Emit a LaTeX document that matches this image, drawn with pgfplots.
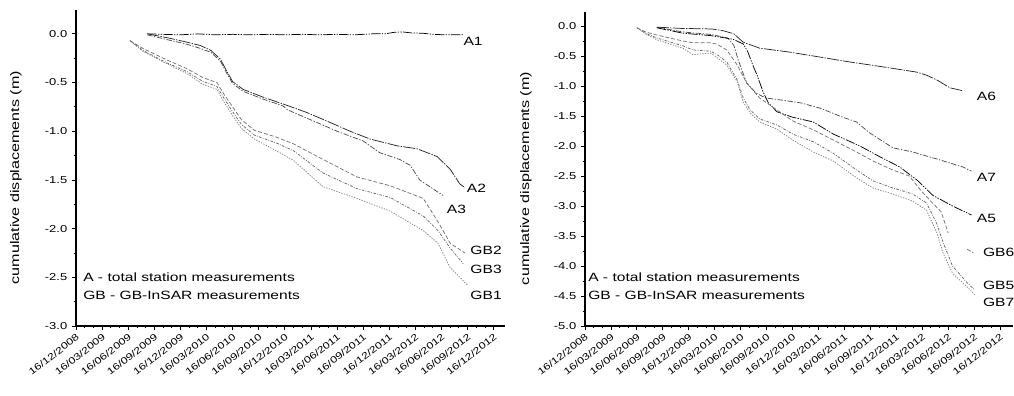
\documentclass[border=0pt]{standalone}
\usepackage{fontspec}
\setmainfont{Liberation Sans}[FakeStretch=1.3]
\usepackage{pgfplots}
\pgfplotsset{compat=1.18}
\newcommand\lab{\fontsize{9}{10}\selectfont}
\pgfplotsset{
  myaxis/.style={
    scale only axis, anchor=south west, clip=false,
    axis x line*=bottom, axis y line*=left,
    axis line style={-, line width=0.8pt},
    tick align=outside, major tick length=3pt, minor tick length=1.8pt,
    tick style={black, line width=0.6pt},
    xmin=0, xtick={0,3,...,48}, minor x tick num=2,
    xticklabels={16/12/2008,16/03/2009,16/06/2009,16/09/2009,16/12/2009,16/03/2010,16/06/2010,16/09/2010,16/12/2010,16/03/2011,16/06/2011,16/09/2011,16/12/2011,16/03/2012,16/06/2012,16/09/2012,16/12/2012},
    xticklabel style={font=\fontsize{7}{8}\selectfont, rotate=38, anchor=north east, inner sep=1.5pt},
    yticklabel style={font=\fontsize{7.5}{8}\selectfont, /pgf/number format/.cd, fixed, fixed zerofill, precision=1},
    /pgf/number format/assume math mode=true,
    minor y tick num=1,
    ylabel={cumulative displacements (m)},
    ylabel style={font=\fontsize{9.3}{10}\selectfont, anchor=center},
    unbounded coords=jump,
    every axis plot/.append style={line width=0.55pt},
  },
  sA1/.style={black, dash pattern=on 7pt off 1pt on 1pt off 1pt on 1pt off 1pt},
  sA2/.style={black!85, dash pattern=on 9pt off 1pt on 1pt off 1pt},
  sA3/.style={black!70, dash pattern=on 4pt off 1.2pt on 1pt off 1.2pt},
  sG1/.style={black!50, dash pattern=on 1pt off 1pt},
  sG2/.style={black!55, dash pattern=on 3pt off 1.5pt},
  sG3/.style={black!60, dash pattern=on 2pt off 1pt on 0.6pt off 1pt},
}
\begin{document}
\begin{tikzpicture}
\path[use as bounding box] (0,0) rectangle (760.5pt,297pt);
% ---------------- left panel ----------------
\begin{axis}[myaxis, at={(57pt,52.5pt)}, width=321.75pt, height=237pt,
  xmax=49.3, ymin=-3.0, ymax=0.245, ytick={-3,-2.5,...,0},
  ylabel style={at={(axis description cs:-0.14,0.47)}}]
\addplot[sA1] coordinates {(8.2,0) (10,-0.005) (12,-0.01) (14,0.0) (16,-0.01) (18,-0.005) (20,-0.01) (22,-0.005) (24,-0.01) (26,-0.005) (28,-0.01) (30,-0.005) (32,-0.01) (34,0.0) (35.5,0.0) (36.5,0.015) (37.5,0.02) (38.5,0.01) (40,0.005) (41,-0.005) (42.5,-0.01) (44.5,-0.01)};
\addplot[sA2] coordinates {(8.2,0) (10.5,-0.04) (12.5,-0.08) (14.3,-0.12) (15.5,-0.17) (16.6,-0.26) (17.3,-0.38) (18.0,-0.49) (19.2,-0.57) (21.5,-0.65) (23.8,-0.72) (26.6,-0.81) (29.2,-0.91) (31.5,-1.0) (33.8,-1.08) (36.9,-1.15) (39.2,-1.18) (41.5,-1.26) (43.0,-1.39) (44.1,-1.54) (44.7,-1.58)};
\addplot[sA3] coordinates {(8.2,-0.01) (10.5,-0.06) (12.5,-0.1) (14.3,-0.15) (15.5,-0.19) (16.6,-0.28) (17.3,-0.4) (18.0,-0.51) (19.2,-0.59) (21.5,-0.67) (23.8,-0.74) (24.3,-0.78) (26.9,-0.88) (30.0,-1.0) (33.0,-1.1) (34.9,-1.22) (37.2,-1.29) (38.4,-1.35) (39.5,-1.5) (41.5,-1.62) (42.2,-1.66)};
\addplot[sG2] coordinates {(6.2,-0.07) (7.7,-0.15) (10.5,-0.27) (12.8,-0.36) (14.6,-0.45) (16.2,-0.5) (17.0,-0.62) (18.0,-0.75) (19.0,-0.88) (20.5,-0.99) (23,-1.06) (25,-1.13) (28.4,-1.29) (32.3,-1.47) (36.1,-1.56) (39.9,-1.69) (41.6,-1.93) (43.0,-2.15) (44.7,-2.25)};
\addplot[sG3] coordinates {(6.2,-0.07) (7.7,-0.17) (10.5,-0.3) (12.8,-0.39) (14.6,-0.49) (16.2,-0.54) (17.0,-0.66) (18.0,-0.8) (19.0,-0.93) (20.5,-1.04) (23,-1.12) (25,-1.2) (28.4,-1.43) (32.3,-1.59) (36.1,-1.68) (39.9,-1.87) (41.6,-2.02) (43,-2.2) (44.5,-2.36)};
\addplot[sG1] coordinates {(6.2,-0.07) (7.7,-0.18) (10.5,-0.31) (12.8,-0.41) (14.6,-0.52) (16.2,-0.57) (17.0,-0.7) (18.0,-0.84) (19.0,-0.97) (20.5,-1.08) (23,-1.2) (25,-1.3) (28.4,-1.57) (32.3,-1.69) (36.1,-1.82) (39.9,-2.02) (41.6,-2.15) (43,-2.4) (45,-2.58)};
\node[font=\lab, anchor=west, inner sep=0] at (axis cs:44.5,-0.08) {A1};
\node[font=\lab, anchor=west, inner sep=0] at (axis cs:44.9,-1.59) {A2};
\node[font=\lab, anchor=west, inner sep=0] at (axis cs:42.6,-1.80) {A3};
\node[font=\lab, anchor=west, inner sep=0] at (axis cs:45.3,-2.22) {GB2};
\node[font=\lab, anchor=west, inner sep=0] at (axis cs:45.3,-2.42) {GB3};
\node[font=\lab, anchor=west, inner sep=0] at (axis cs:45.3,-2.69) {GB1};
\end{axis}
% ---------------- right panel ----------------
\begin{axis}[myaxis, at={(438.75pt,52.5pt)}, width=321pt, height=235.5pt,
  xmax=49.5, ymin=-5.0, ymax=0.233, ytick={-5,-4.5,...,0},
  ylabel style={at={(axis description cs:-0.138,0.47)}}]
\addplot[sA2] coordinates {(8.3,-0.02) (11,-0.04) (14.7,-0.05) (16,-0.08) (17.2,-0.13) (18.3,-0.27) (20.2,-0.37) (23.4,-0.43) (26.4,-0.5) (28.5,-0.55) (30.6,-0.6) (33,-0.65) (35.3,-0.7) (38.4,-0.77) (39.5,-0.82) (40.7,-0.9) (42.2,-1.03) (43.7,-1.08)};
\addplot[sA3] coordinates {(8.3,-0.02) (11.3,-0.1) (14.5,-0.14) (16.5,-0.2) (17.2,-0.32) (17.8,-0.6) (18.7,-0.95) (19.8,-1.12) (20.9,-1.2) (22.5,-1.23) (24.9,-1.28) (27.2,-1.37) (29.8,-1.52) (31.4,-1.6) (32.9,-1.78) (35.6,-2.03) (37.9,-2.1) (41.0,-2.23) (43.7,-2.35) (44.7,-2.42)};
\addplot[sA1] coordinates {(8.3,-0.03) (11.3,-0.12) (14.5,-0.16) (17.1,-0.22) (18.3,-0.3) (18.8,-0.42) (19.4,-0.65) (19.9,-0.82) (20.6,-1.1) (21.2,-1.28) (22.2,-1.43) (24,-1.52) (26.4,-1.6) (28.7,-1.8) (31.8,-2.0) (34.1,-2.18) (36.4,-2.35) (38.5,-2.58) (40.2,-2.82) (42.5,-3.0) (44.7,-3.15)};
\addplot[sG2] coordinates {(6.0,-0.03) (7,-0.1) (8.3,-0.15) (11.3,-0.25) (12.5,-0.28) (14.5,-0.28) (15.2,-0.3) (16.4,-0.4) (17.6,-0.65) (18.7,-0.95) (20.2,-1.2) (22.2,-1.4) (24.0,-1.58) (26.4,-1.73) (28.7,-1.9) (31.4,-2.1) (33.3,-2.25) (35.6,-2.4) (37.5,-2.5) (38.9,-2.75) (40.2,-2.95) (41.2,-3.1) (42.0,-3.45) (43,nan) (44.2,-3.72) (44.9,-3.78)};
\addplot[sG3] coordinates {(6.0,-0.03) (7,-0.12) (8.3,-0.2) (11.3,-0.33) (12.5,-0.4) (14.5,-0.42) (15.2,-0.47) (16.4,-0.6) (17.6,-0.9) (18.3,-1.2) (19.1,-1.4) (20.2,-1.55) (22.2,-1.65) (24.0,-1.8) (26.4,-1.93) (28.7,-2.12) (31.4,-2.4) (33.3,-2.58) (35.6,-2.7) (37.9,-2.8) (39.5,-2.95) (40.7,-3.3) (41.4,-3.6) (42.5,-4.0) (44.2,-4.28) (45.1,-4.4)};
\addplot[sG1] coordinates {(6.0,-0.03) (7,-0.13) (8.3,-0.23) (11.3,-0.37) (12.5,-0.48) (14.5,-0.45) (15.2,-0.52) (16.4,-0.65) (17.6,-0.93) (18.3,-1.27) (19.1,-1.45) (20.2,-1.6) (22.2,-1.72) (24.0,-1.9) (26.4,-2.1) (28.7,-2.25) (31.4,-2.53) (33.3,-2.7) (35.6,-2.8) (37.9,-2.92) (39.5,-3.07) (40.7,-3.45) (41.4,-3.78) (42.5,-4.12) (44.2,-4.35) (45.1,-4.48)};
\node[font=\lab, anchor=west, inner sep=0] at (axis cs:45.3,-1.18) {A6};
\node[font=\lab, anchor=west, inner sep=0] at (axis cs:45.3,-2.52) {A7};
\node[font=\lab, anchor=west, inner sep=0] at (axis cs:45.3,-3.2) {A5};
\node[font=\lab, anchor=west, inner sep=0] at (axis cs:46.0,-3.77) {GB6};
\node[font=\lab, anchor=west, inner sep=0] at (axis cs:46.0,-4.33) {GB5};
\node[font=\lab, anchor=west, inner sep=0] at (axis cs:46.0,-4.6) {GB7};
\end{axis}
% legend texts
\node[font=\lab, anchor=base west, inner sep=0] at (62.25pt,85.5pt) {A - total station measurements};
\node[font=\lab, anchor=base west, inner sep=0] at (62.25pt,72pt) {GB - GB-InSAR measurements};
\node[font=\lab, anchor=base west, inner sep=0] at (441pt,85.5pt) {A - total station measurements};
\node[font=\lab, anchor=base west, inner sep=0] at (441pt,72pt) {GB - GB-InSAR measurements};
\end{tikzpicture}
\end{document}
